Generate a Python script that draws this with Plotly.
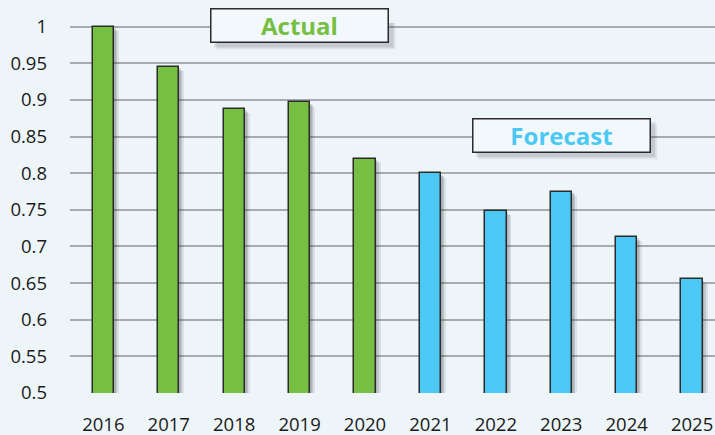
import plotly.graph_objects as go

years = [2016, 2017, 2018, 2019, 2020, 2021, 2022, 2023, 2024, 2025]
actual_years = years[:5]
forecast_years = years[5:]
actual_values = [1.0, 0.945, 0.888, 0.897, 0.820]
forecast_values = [0.800, 0.749, 0.775, 0.713, 0.655]
y_ticks = [0.5, 0.55, 0.6, 0.65, 0.7, 0.75, 0.8, 0.85, 0.9, 0.95, 1]
y_ticktext = ["0.5", "0.55", "0.6", "0.65", "0.7", "0.75", "0.8", "0.85", "0.9", "0.95", "1"]
label_texts = ["Actual", "Forecast"]
label_years = [2019, 2023]
label_levels = [1.001, 0.851]

GREEN = "#76bf43"
BLUE = "#4bc9f4"
BG = "#eef5f9"
BW = 0.327

fig = go.Figure()

all_vals = actual_values + forecast_values
# soft drop shadows
for dx, dy, a in [(0.075, 0.006, 0.10), (0.045, 0.004, 0.14), (0.025, 0.002, 0.14)]:
    fig.add_trace(go.Bar(
        x=years, y=[v - dy for v in all_vals], width=BW, offset=-BW / 2 + dx,
        marker=dict(color=f"rgba(40,45,50,{a})", line=dict(width=0)),
        hoverinfo="skip", showlegend=False))

fig.add_trace(go.Bar(
    x=actual_years, y=actual_values, width=BW, offset=-BW / 2,
    marker=dict(color=GREEN, line=dict(color="#2b2b2b", width=1.5)),
    name="Actual", showlegend=False))
fig.add_trace(go.Bar(
    x=forecast_years, y=forecast_values, width=BW, offset=-BW / 2,
    marker=dict(color=BLUE, line=dict(color="#2b2b2b", width=1.5)),
    name="Forecast", showlegend=False))

for text, xc, yc, col in zip(label_texts, label_years, label_levels, [GREEN, BLUE]):
    for sh, a in [(6, 0.08), (4, 0.14)]:
        fig.add_shape(type="rect", xref="x", yref="y", xsizemode="pixel", ysizemode="pixel",
                      xanchor=xc, yanchor=yc, x0=-89 + sh, x1=90 + sh,
                      y0=-17.5 - sh, y1=17.5 - sh,
                      fillcolor=f"rgba(40,45,50,{a})", line=dict(width=0), layer="above")
    fig.add_annotation(x=xc, y=yc, xref="x", yref="y", text=f"<b>{text}</b>",
                       showarrow=False, width=176, height=32,
                       font=dict(family="Open Sans", size=24, color=col),
                       bgcolor="#f2f8fc", bordercolor="#2b2b2b", borderwidth=1.5,
                       borderpad=0)

fig.update_layout(
    width=715, height=435,
    margin=dict(l=70, r=0, t=23, b=42),
    paper_bgcolor=BG, plot_bgcolor=BG,
    barmode="overlay", bargap=0,
    font=dict(family="Open Sans", size=18, color="#1a1a1a"),
    xaxis=dict(range=[2015.49, 2025.35], tickvals=years, ticktext=[str(y) for y in years],
               showgrid=False, showline=False, zeroline=False, ticks="",
               ticklabelstandoff=18, tickfont=dict(size=18.5)),
    yaxis=dict(range=[0.5, 1.005], tickvals=y_ticks, ticktext=y_ticktext,
               showgrid=True, gridcolor="#a7abae", gridwidth=1.5,
               zeroline=False, showline=False, ticks="",
               ticklabelstandoff=22, tickfont=dict(size=18.5)),
)

fig.write_html("out.html", config={"displayModeBar": False},
               post_script="document.body.style.margin='0';document.body.style.overflow='hidden';")
